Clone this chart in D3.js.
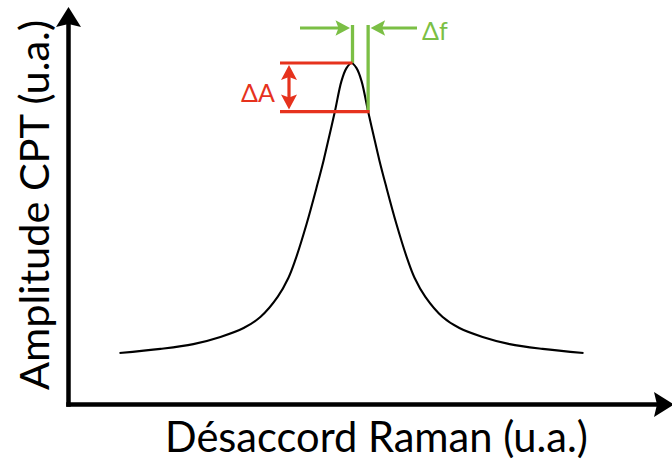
<!DOCTYPE html>
<html>
<head>
<meta charset="utf-8">
<script src="https://cdn.jsdelivr.net/npm/d3@7"></script>
<style>
  html, body { margin: 0; padding: 0; background: #fff; }
  svg { display: block; font-family: Lato, "Open Sans", "DejaVu Sans", sans-serif; }
</style>
</head>
<body>
<svg id="chart" width="672" height="460"></svg>
<script>
// CPT resonance versus Raman detuning (arbitrary units)
const detuning = [-6, -4.94, -4.09, -3.39, -2.79, -2.35, -1.91, -1.63, -1.45, -1.16, -0.88, -0.72, -0.57, -0.43, -0.26, -0.13,
                  0, 0.13, 0.26, 0.43, 0.57, 0.72, 0.88, 1.16, 1.45, 1.63, 1.91, 2.35, 2.79, 3.39, 4.09, 4.94, 6];
const amplitude = [0.152, 0.164, 0.178, 0.199, 0.225, 0.258, 0.316, 0.372, 0.425, 0.530, 0.646, 0.716, 0.789, 0.858, 0.947, 0.985,
                   1.000, 0.985, 0.947, 0.858, 0.789, 0.716, 0.646, 0.530, 0.425, 0.372, 0.316, 0.258, 0.225, 0.199, 0.178, 0.164, 0.152];

// Frequency shift and amplitude drop marked on the peak
const peakDetuning = 0;
const shiftedDetuning = 0.43;
const peakAmplitude = 1.0;
const shiftedAmplitude = 0.858;

const xLabel = "Désaccord Raman (u.a.)";
const yLabel = "Amplitude CPT (u.a.)";
const deltaFLabel = "Δf";
const deltaALabel = "ΔA";

const GREEN = "#7bbf45";
const RED = "#e6321d";

const svg = d3.select("#chart");

const x = d3.scaleLinear().domain([-6, 6]).range([119.5, 583.5]);
const y = d3.scaleLinear().domain([0, 1]).range([405, 63]);

// Axes frame
const axisX = 68.5, axisY = 404.5;
const axisW = 4.5;

// filled arrowhead with a slight notch at its base
function arrowHead(tipX, tipY, dir, len, half, notch) {
  // dir: unit vector pointing toward the tip
  const [dx, dy] = dir;
  const px = -dy, py = dx;
  const bx = tipX - dx * len, by = tipY - dy * len;
  const nx = tipX - dx * (len - notch), ny = tipY - dy * (len - notch);
  return `M${tipX},${tipY}L${bx + px * half},${by + py * half}L${nx},${ny}L${bx - px * half},${by - py * half}Z`;
}

const axes = svg.append("g");
axes.append("line")
  .attr("x1", axisX).attr("y1", axisY + axisW / 2)
  .attr("x2", axisX).attr("y2", 22)
  .attr("stroke", "#000").attr("stroke-width", axisW);
axes.append("path")
  .attr("d", arrowHead(axisX, 7, [0, -1], 20, 12.5, 3))
  .attr("fill", "#000");
axes.append("line")
  .attr("x1", axisX - axisW / 2).attr("y1", axisY)
  .attr("x2", 660).attr("y2", axisY)
  .attr("stroke", "#000").attr("stroke-width", axisW);
axes.append("path")
  .attr("d", arrowHead(674, axisY, [1, 0], 20, 12.5, 3))
  .attr("fill", "#000");

// Resonance curve
const line = d3.line()
  .x((d, i) => x(detuning[i]))
  .y(d => y(d))
  .curve(d3.curveCatmullRom.alpha(0.5));

svg.append("path")
  .datum(amplitude)
  .attr("d", line)
  .attr("fill", "none")
  .attr("stroke", "#000")
  .attr("stroke-width", 2.1);

// Δf markers (green)
const markerTop = 25, arrowRow = 28;
const g = svg.append("g");
g.append("line")
  .attr("x1", x(peakDetuning) + 1).attr("x2", x(peakDetuning) + 1)
  .attr("y1", markerTop).attr("y2", y(peakAmplitude))
  .attr("stroke", GREEN).attr("stroke-width", 3.3);
g.append("line")
  .attr("x1", x(shiftedDetuning)).attr("x2", x(shiftedDetuning))
  .attr("y1", markerTop).attr("y2", y(shiftedAmplitude) + 1)
  .attr("stroke", GREEN).attr("stroke-width", 3.3);
// left arrow pointing right
const leftTip = x(peakDetuning) - 1.5;
g.append("line")
  .attr("x1", 300).attr("x2", leftTip - 10)
  .attr("y1", arrowRow).attr("y2", arrowRow)
  .attr("stroke", GREEN).attr("stroke-width", 3);
g.append("path")
  .attr("d", arrowHead(leftTip, arrowRow, [1, 0], 14.5, 7.7, 3))
  .attr("fill", GREEN);
// right arrow pointing left
const rightTip = x(shiftedDetuning) + 2.5;
g.append("line")
  .attr("x1", 417).attr("x2", rightTip + 10)
  .attr("y1", arrowRow).attr("y2", arrowRow)
  .attr("stroke", GREEN).attr("stroke-width", 3);
g.append("path")
  .attr("d", arrowHead(rightTip, arrowRow, [-1, 0], 14.5, 7.7, 3))
  .attr("fill", GREEN);
g.append("text")
  .attr("x", 422).attr("y", 40)
  .attr("fill", GREEN)
  .attr("font-size", 25)
  .text(deltaFLabel);

// ΔA markers (red)
const r = svg.append("g");
const redLeft = 280, redArrowX = 289;
r.append("line")
  .attr("x1", redLeft).attr("x2", x(peakDetuning) + 1)
  .attr("y1", y(peakAmplitude)).attr("y2", y(peakAmplitude))
  .attr("stroke", RED).attr("stroke-width", 3.2);
r.append("line")
  .attr("x1", redLeft).attr("x2", x(shiftedDetuning) + 1.5)
  .attr("y1", y(shiftedAmplitude)).attr("y2", y(shiftedAmplitude))
  .attr("stroke", RED).attr("stroke-width", 3.2);
const aTop = y(peakAmplitude) + 2, aBot = y(shiftedAmplitude) - 2;
r.append("line")
  .attr("x1", redArrowX).attr("x2", redArrowX)
  .attr("y1", aTop + 10).attr("y2", aBot - 10)
  .attr("stroke", RED).attr("stroke-width", 3.2);
r.append("path")
  .attr("d", arrowHead(redArrowX, aTop, [0, -1], 15, 8, 3))
  .attr("fill", RED);
r.append("path")
  .attr("d", arrowHead(redArrowX, aBot, [0, 1], 15, 8, 3))
  .attr("fill", RED);
r.append("text")
  .attr("x", 241).attr("y", 101.5)
  .attr("fill", RED)
  .attr("font-size", 25)
  .text(deltaALabel);

// Axis titles, sized to their span
function fitWidth(sel, target) {
  const size = +sel.attr("font-size");
  const len = sel.node().getComputedTextLength();
  sel.attr("font-size", size * target / len);
}

const xt = svg.append("text")
  .attr("x", 376.5).attr("y", 452)
  .attr("text-anchor", "middle")
  .attr("font-size", 40)
  .attr("fill", "#000")
  .text(xLabel);
fitWidth(xt, 423);

const yt = svg.append("text")
  .attr("transform", "translate(48.5,205) rotate(-90)")
  .attr("text-anchor", "middle")
  .attr("font-size", 40)
  .attr("fill", "#000")
  .text(yLabel);
fitWidth(yt, 370);
</script>
</body>
</html>
